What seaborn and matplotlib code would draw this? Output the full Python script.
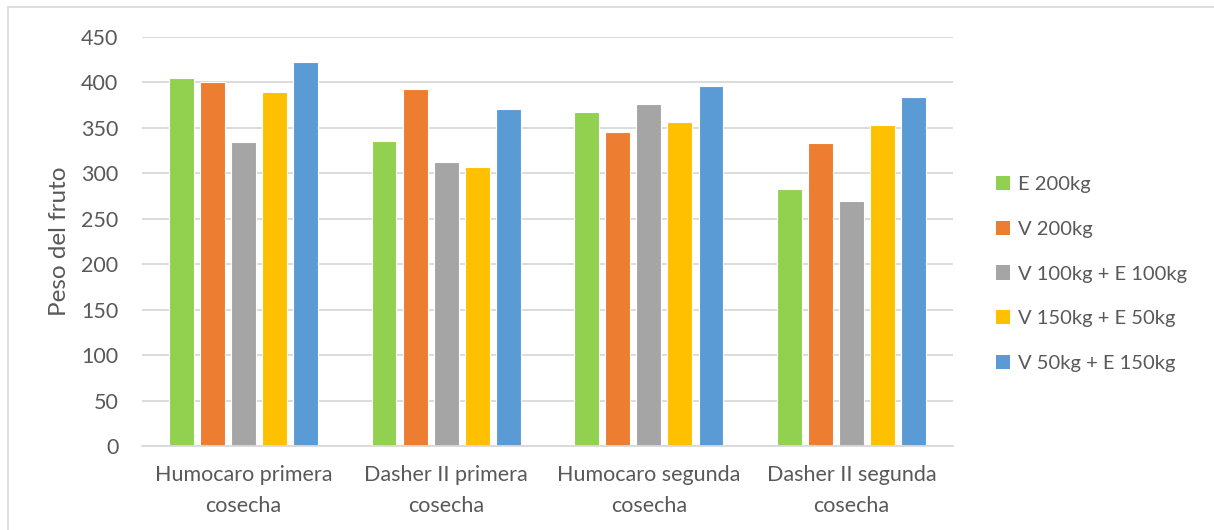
import matplotlib
matplotlib.use("Agg")
import matplotlib.pyplot as plt
from matplotlib.lines import Line2D
from matplotlib.patches import Patch
import pandas as pd
import seaborn as sns

# Fruit weight per harvest and fertilizer treatment
cosechas = [
    "Humocaro primera\ncosecha",
    "Dasher II primera\ncosecha",
    "Humocaro segunda\ncosecha",
    "Dasher II segunda\ncosecha",
]
tratamientos = [
    "E 200kg",
    "V 200kg",
    "V 100kg + E 100kg",
    "V 150kg + E 50kg",
    "V 50kg + E 150kg",
]
e_200 = [405, 336, 367, 283]
v_200 = [401, 393, 345, 333]
v100_e100 = [334, 312, 376, 270]
v150_e50 = [389, 307, 357, 353]
v50_e150 = [423, 371, 396, 384]
colores = ["#92d050", "#ed7d31", "#a5a5a5", "#ffc000", "#5b9bd5"]
yticks = [0, 50, 100, 150, 200, 250, 300, 350, 400, 450]

series = [e_200, v_200, v100_e100, v150_e50, v50_e150]
rows = []
for trat, vals in zip(tratamientos, series):
    for cos, v in zip(cosechas, vals):
        rows.append({"cosecha": cos, "tratamiento": trat, "peso": v})
df = pd.DataFrame(rows)

sns.set_theme(style="white")
plt.rcParams["font.family"] = ["Lato", "DejaVu Sans"]

W, H = 1214, 530
fig = plt.figure(figsize=(W / 100, H / 100), dpi=100)
ax = fig.add_axes([142 / W, 1 - 446 / H, (953 - 142) / W, (446 - 37) / H])

sns.barplot(
    data=df, x="cosecha", y="peso", hue="tratamiento",
    order=cosechas, hue_order=tratamientos, palette=colores,
    width=0.765, gap=0.2, edgecolor="white", linewidth=0.8,
    errorbar=None, saturation=1, ax=ax, legend=False,
)

txt = "#595959"
ax.set_ylim(0, 450)
ax.set_xlim(-0.5, len(cosechas) - 0.5)
ax.set_yticks(yticks)
ax.set_yticklabels([str(t) for t in yticks])
ax.yaxis.grid(True, color="#d9d9d9", linewidth=1.3)
ax.set_axisbelow(True)
for s in ["top", "right", "left"]:
    ax.spines[s].set_visible(False)
ax.spines["bottom"].set_color("#d9d9d9")
ax.spines["bottom"].set_linewidth(1.3)
ax.tick_params(axis="y", length=0, pad=17, labelsize=15.5, labelcolor=txt)
ax.tick_params(axis="x", length=0, pad=14, labelsize=15.5, labelcolor=txt)
for lbl in ax.get_xticklabels():
    lbl.set_linespacing(1.66)
ax.set_xlabel("")
ax.set_ylabel("Peso del fruto", fontsize=17.5, color=txt)
ax.yaxis.set_label_coords(-(142 - 60) / (953 - 142), 0.5)
ax.yaxis.label.set_verticalalignment("center")

handles = [Patch(facecolor=c, edgecolor="none") for c in colores]
leg = fig.legend(
    handles, tratamientos, loc="upper left",
    bbox_to_anchor=(978 / W, 1 - 158 / H), frameon=False,
    fontsize=14.5, labelcolor=txt, handlelength=0.7, handleheight=0.7,
    handletextpad=0.4, labelspacing=1.37,
)

# chart area border
fig.add_artist(Line2D([8 / W, 8 / W], [0, 1 - 7 / H], transform=fig.transFigure,
                      color="#d9d9d9", linewidth=1.2))
fig.add_artist(Line2D([8 / W, 1], [1 - 7 / H, 1 - 7 / H], transform=fig.transFigure,
                      color="#d9d9d9", linewidth=1.2))

fig.savefig("out.png", dpi=100, facecolor="white")
